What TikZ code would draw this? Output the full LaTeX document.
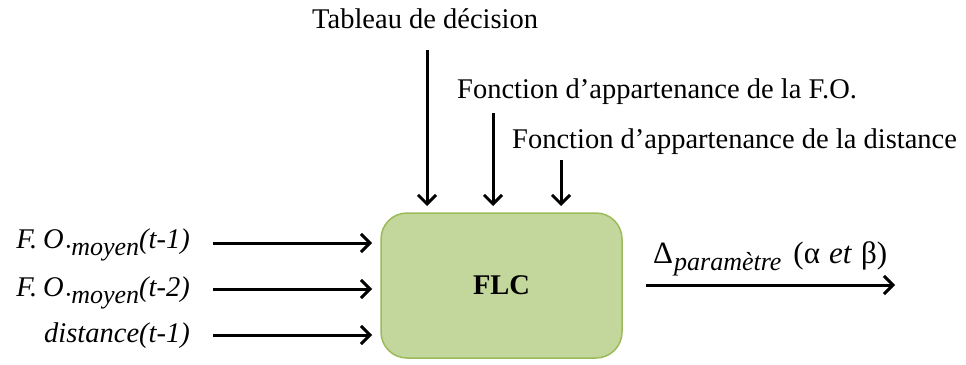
\documentclass[tikz,border=0pt]{standalone}
\usepackage{fontspec}
\setmainfont{Liberation Serif}
\usetikzlibrary{arrows.meta}
\definecolor{flcfill}{HTML}{C3D69B}
\definecolor{flcedge}{HTML}{9BBB59}
% lowered subscript set in text mode
\newcommand{\lowsub}[1]{\raisebox{-7pt}{\fontsize{26}{27}\selectfont\itshape #1}}
\newcommand{\fomoy}{\textit{F.\hspace{6pt}O}\lowsub{\hspace{1pt}·moyen}}
\begin{document}
\begin{tikzpicture}[x=1pt,y=-1pt,
  lbl/.style={font=\fontsize{28.5}{30}\selectfont, inner sep=0pt},
  flow/.style={line width=3pt, -{Straight Barb[length=9pt,width=18pt,line width=3pt]}},
  flcbox/.style={draw=flcedge, line width=1.5pt, fill=flcfill, rounded corners=26pt,
    minimum width=241pt, minimum height=145pt, inner sep=0pt,
    font=\fontsize{28.5}{30}\selectfont\bfseries}]
  \useasboundingbox (0,0) rectangle (966,364);

  % controller block
  \node[flcbox] (flc) at (501.5,285.5) {FLC};

  % parameters fed from above
  \node[lbl, anchor=base west] (tab) at (312,28) {Tableau de décision};
  \node[lbl, anchor=base west] (mfo) at (457,98) {Fonction d’appartenance de la F.O.};
  \node[lbl, anchor=base west] (mdist) at (512,148) {Fonction d’appartenance de la distance};

  \coordinate (t1) at (427,50);
  \coordinate (t2) at (493,113);
  \coordinate (t3) at (561,160);
  \draw[flow] (t1) -- (t1 |- 0,206);
  \draw[flow] (t2) -- (t2 |- 0,206);
  \draw[flow] (t3) -- (t3 |- 0,206);

  % inputs
  \node[lbl, anchor=base east] (in1) at (190,248) {\fomoy\textit{(t-1)}};
  \node[lbl, anchor=base east] (in2) at (190,296) {\fomoy\textit{(t-2)}};
  \node[lbl, anchor=base east] (in3) at (190,342) {\textit{distance(t-1)}};

  \coordinate (s1) at (213,243);
  \coordinate (s2) at (213,289);
  \coordinate (s3) at (213,335);
  \draw[flow] (s1) -- (s1 -| 372,0);
  \draw[flow] (s2) -- (s2 -| 372,0);
  \draw[flow] (s3) -- (s3 -| 372,0);

  % output
  \coordinate (o1) at (646,285);
  \coordinate (o2) at (895,285);
  \draw[flow] (o1) -- (o2);
  \node[lbl, anchor=base west] (out) at (653,263)
    {{\fontsize{31}{32}\selectfont Δ}\lowsub{\hspace{1pt}paramètre}\hspace{12pt}%
     {\fontsize{31}{32}\selectfont (α\hspace{9pt}\textit{et}\hspace{9pt}β)}};
\end{tikzpicture}
\end{document}
